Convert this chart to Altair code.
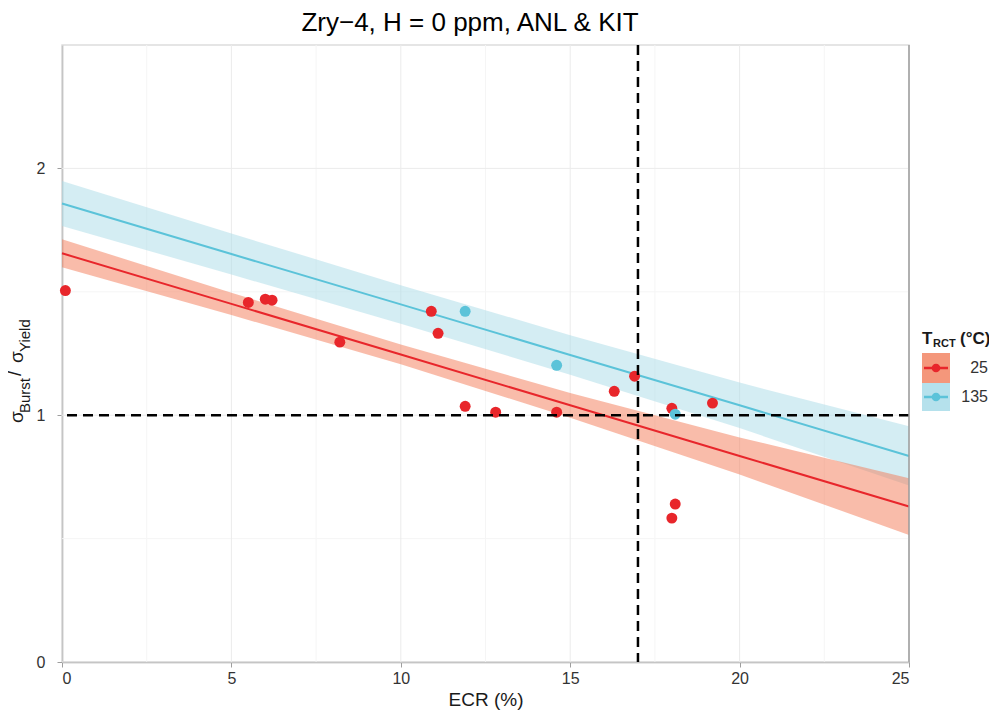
import altair as alt
import pandas as pd

# ---------------- data ----------------
red_x = [0.1, 5.5, 6.0, 6.2, 8.2, 10.9, 11.1, 11.9, 12.8, 14.6, 16.3, 16.9, 18.0, 19.2, 18.0, 18.1]
red_y = [1.505, 1.457, 1.470, 1.466, 1.296, 1.421, 1.332, 1.036, 1.012, 1.012, 1.097, 1.158, 1.028, 1.049, 0.583, 0.640]
blue_x = [11.9, 14.6, 18.1]
blue_y = [1.421, 1.202, 1.004]

band_x = [0, 5, 10, 15, 20, 25]
red_fit = [1.656, 1.451, 1.246, 1.040, 0.835, 0.630]
red_hi = [1.713, 1.496, 1.286, 1.090, 0.910, 0.745]
red_lo = [1.599, 1.406, 1.206, 0.990, 0.760, 0.515]
blue_fit = [1.858, 1.653, 1.449, 1.244, 1.040, 0.835]
blue_hi = [1.949, 1.736, 1.527, 1.324, 1.132, 0.955]
blue_lo = [1.767, 1.570, 1.371, 1.164, 0.948, 0.715]

groups = ["25", "135"]
x_major = [0, 5, 10, 15, 20, 25]
x_minor = [2.5, 7.5, 12.5, 17.5, 22.5]
y_major = [0, 1, 2]
y_minor = [0.5, 1.5]
ecr_limit = [17]
ratio_limit = [1]

title_text = "Zry\u22124, H = 0 ppm, ANL & KIT"

# ---------------- styles ----------------
RED = "#E8262B"
BLUE = "#5BC3D9"
RED_BAND = "#F47A55"
BLUE_BAND = "#A9DCE8"
RED_KEY = "#F4977B"
BLUE_KEY = "#B5E1EC"
FONT = "Liberation Sans"

xs = alt.Scale(domain=[0, 25], nice=False, zero=False)
ys = alt.Scale(domain=[0, 2.5], nice=False, zero=False)

x_axis = alt.Axis(values=x_major, grid=False, domainColor="#9E9E9E", domainWidth=1.5,
                  tickColor="#9E9E9E", tickSize=5, labelFontSize=16, labelColor="#333333",
                  labelPadding=3, title="ECR (%)", titleFontSize=19, titleFontWeight="normal",
                  titleColor="#1A1A1A", titlePadding=4, labelFont=FONT, titleFont=FONT)
y_axis = alt.Axis(values=y_major, grid=False, domainColor="#9E9E9E", domainWidth=1.5,
                  tickColor="#9E9E9E", tickSize=5, labelFontSize=16, labelColor="#333333",
                  labelPadding=12, title="", labelFont=FONT)


def X(field):
    return alt.X(field, scale=xs, axis=x_axis)


def Y(field):
    return alt.Y(field, scale=ys, axis=y_axis)


def grid_layer(vals, channel, color):
    df = pd.DataFrame({"v": vals})
    enc = {"x": X("v:Q")} if channel == "x" else {"y": Y("v:Q")}
    return alt.Chart(df).mark_rule(color=color, strokeWidth=1).encode(**enc)


grids = [
    grid_layer(x_minor, "x", "#F5F5F5"),
    grid_layer(y_minor, "y", "#F5F5F5"),
    grid_layer(x_major, "x", "#EBEBEB"),
    grid_layer(y_major, "y", "#EBEBEB"),
]

band_df = pd.DataFrame({
    "x": band_x * 2,
    "fit": red_fit + blue_fit,
    "hi": red_hi + blue_hi,
    "lo": red_lo + blue_lo,
    "g": [groups[0]] * len(band_x) + [groups[1]] * len(band_x),
})
blue_band_df = band_df[band_df.g == groups[1]]
red_band_df = band_df[band_df.g == groups[0]]

blue_band = alt.Chart(blue_band_df).mark_area(color=BLUE_BAND, opacity=0.5).encode(
    x=X("x:Q"), y=Y("lo:Q"), y2="hi:Q")
red_band = alt.Chart(red_band_df).mark_area(color=RED_BAND, opacity=0.5).encode(
    x=X("x:Q"), y=Y("lo:Q"), y2="hi:Q")
blue_line = alt.Chart(blue_band_df).mark_line(color=BLUE, strokeWidth=2).encode(
    x=X("x:Q"), y=Y("fit:Q"))
red_line = alt.Chart(red_band_df).mark_line(color=RED, strokeWidth=2).encode(
    x=X("x:Q"), y=Y("fit:Q"))

red_pts = alt.Chart(pd.DataFrame({"x": red_x, "y": red_y})).mark_circle(
    size=120, opacity=1, color=RED).encode(x=X("x:Q"), y=Y("y:Q"))
blue_pts = alt.Chart(pd.DataFrame({"x": blue_x, "y": blue_y})).mark_circle(
    size=120, opacity=1, color=BLUE).encode(x=X("x:Q"), y=Y("y:Q"))

vline = alt.Chart(pd.DataFrame({"v": ecr_limit})).mark_rule(
    color="black", strokeWidth=2.5, strokeDash=[10, 6]).encode(x=X("v:Q"))
hline = alt.Chart(pd.DataFrame({"v": ratio_limit})).mark_rule(
    color="black", strokeWidth=2.5, strokeDash=[10, 6]).encode(y=Y("v:Q"))

right_border = alt.Chart(pd.DataFrame({"v": [25]})).mark_rule(
    color="#9E9E9E", strokeWidth=1.5).encode(x=X("v:Q"))

one = pd.DataFrame({"a": [0]})


def txt(s, x, y, size, angle=0, align="left", baseline="alphabetic", weight="normal", color="#1A1A1A"):
    kw = dict(align=align, baseline=baseline, fontSize=size, font=FONT,
              fontWeight=weight, color=color, text=s)
    if angle:
        kw["angle"] = angle
    return alt.Chart(one).mark_text(**kw).encode(x=alt.value(x), y=alt.value(y))


# title
title = txt(title_text, 408, -14, 26, align="center", color="black")

# y-axis title: sigma_Burst / sigma_Yield (rotated)
ytitle = [
    txt("\u03c3", -39, 378, 19, angle=270),
    txt("Burst", -32, 368, 15, angle=270),
    txt("/", -41, 331, 20, angle=270),
    txt("\u03c3", -39, 318, 19, angle=270),
    txt("Yield", -32, 307, 15, angle=270),
]

# legend
legend = [
    txt("T", 860, 299, 17, weight="bold"),
    txt("RCT", 871, 302, 11, weight="bold"),
    txt("(\u00b0C)", 898, 299, 17, weight="bold"),
]
key_rows = [(groups[0], RED_KEY, RED, 308, 338), (groups[1], BLUE_KEY, BLUE, 338, 366)]
for lab, kc, lc, y0, y1 in key_rows:
    yc = (y0 + y1) / 2
    legend.append(alt.Chart(one).mark_rect(color=kc).encode(
        x=alt.value(860), x2=alt.value(888), y=alt.value(y0), y2=alt.value(y1)))
    legend.append(alt.Chart(one).mark_rule(color=lc, strokeWidth=2.5).encode(
        x=alt.value(862), x2=alt.value(886), y=alt.value(yc)))
    legend.append(alt.Chart(one).mark_circle(color=lc, size=75, opacity=1).encode(
        x=alt.value(874), y=alt.value(yc)))
    legend.append(txt(lab, 926, yc, 16, align="right", baseline="middle", color="#333333"))

chart = alt.layer(
    *grids, blue_band, red_band, blue_line, red_line, red_pts, blue_pts,
    vline, hline, right_border, title, *ytitle, *legend
).properties(
    width=847, height=617,
    padding={"left": 54, "top": 37, "right": 80, "bottom": 48},
    autosize=alt.AutoSizeParams(type="none"),
).configure_view(stroke="#DDDDDD", strokeWidth=1.5)

chart.save("out.html", embed_options={"renderer": "svg", "actions": False})
